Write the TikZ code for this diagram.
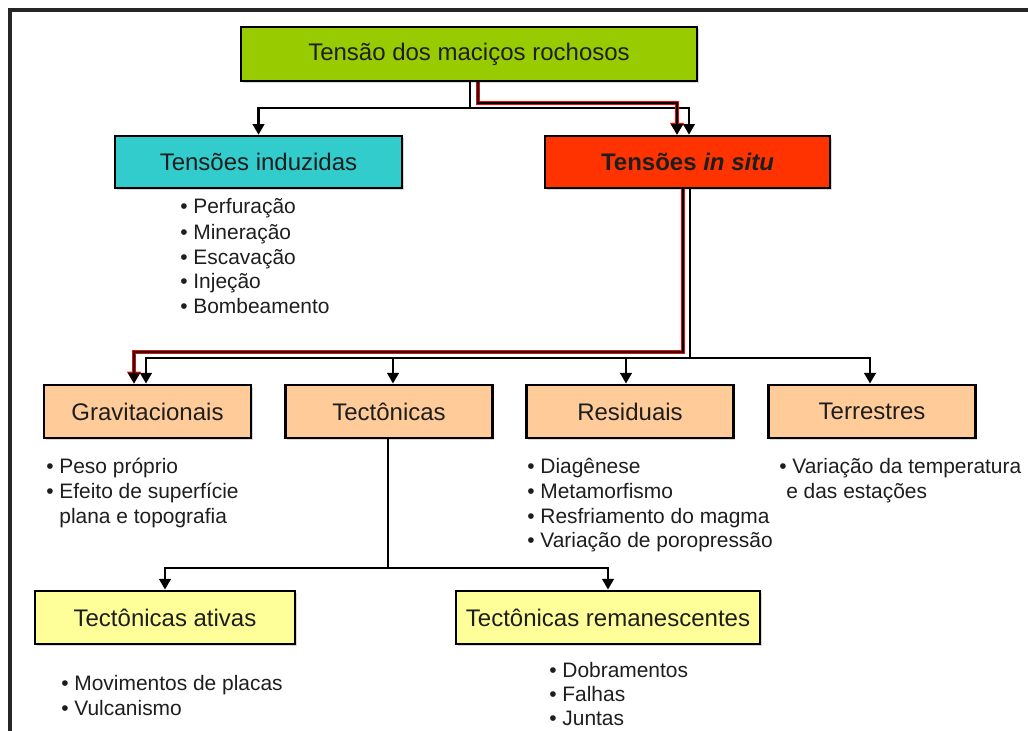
\documentclass[tikz,border=0pt]{standalone}
\usepackage{fontspec}
\setmainfont{Liberation Sans}
\usetikzlibrary{arrows.meta,calc,shadows}
\definecolor{cgreen}{HTML}{99CC00}
\definecolor{ccyan}{HTML}{33CCCC}
\definecolor{cred}{HTML}{FF3300}
\definecolor{cpeach}{HTML}{FFCC99}
\definecolor{cyellow}{HTML}{FFFF99}
\definecolor{ctext}{HTML}{1E1E1E}
\begin{document}
\begin{tikzpicture}[x=0.75pt,y=-0.75pt,
  box/.style={draw=black, line width=1.8pt, minimum height=40pt, inner sep=0pt,
    font=\fontsize{18}{20}\selectfont, text=ctext,
    drop shadow={shadow xshift=1.3pt, shadow yshift=-1.3pt, fill=black!30}},
  item/.style={anchor=base west, inner sep=0pt, font=\fontsize{15.7}{18}\selectfont, text=ctext},
  conn/.style={line width=2.1pt, black},
  arr/.style={conn, -{Triangle[width=8.5pt,length=8pt]}},
  rconn/.style={line width=3.6pt, red},
  rarr/.style={rconn, -{Triangle[width=10pt,length=9pt]}},
]
\useasboundingbox (0,0) rectangle (1028,731);
\fill[white] (0,0) rectangle (1028,731);
% frame
\draw[line width=2.4pt, black!85] (10,731) -- (10,10) -- (1028,10);

% boxes
\node[box, fill=cgreen, minimum width=342pt, minimum height=40.5pt] (top) at (469,54) {Tensão dos maciços rochosos};
\node[box, fill=ccyan, minimum width=215pt, minimum height=39pt] (ind) at (258.5,162) {Tensões induzidas};
\node[box, fill=cred, minimum width=214pt, minimum height=39pt] (insitu) at (687.5,162) {\bfseries Tensões \itshape in situ};
\node[box, fill=cpeach, minimum width=155pt] (grav) at (147.5,411.5) {Gravitacionais};
\node[box, fill=cpeach, minimum width=155pt] (tect) at (389,411.5) {Tectônicas};
\node[box, fill=cpeach, minimum width=155pt] (resid) at (630,411.5) {Residuais};
\node[box, fill=cpeach, minimum width=155pt] (terr) at (872,411.5) {Terrestres};
\node[box, fill=cyellow, minimum width=195pt] (ativ) at (165,617.5) {Tectônicas ativas};
\node[box, fill=cyellow, minimum width=228pt] (rem) at (608,617.5) {Tectônicas remanescentes};

% bullet lists
\node[item] (i1) at (180,214) {•~Perfuração};
\node[item] (i2) at (180,239) {•~Mineração};
\node[item] (i3) at (180,264) {•~Escavação};
\node[item] (i4) at (180,288) {•~Injeção};
\node[item] (i5) at (180,313) {•~Bombeamento};

\node[item] (g1) at (46,473) {•~Peso próprio};
\node[item] (g2) at (46,498) {•~Efeito de superfície};
\node[item] (g3) at (46,523) {\phantom{•~}plana e topografia};

\node[item] (r1) at (527,473) {•~Diagênese};
\node[item] (r2) at (527,498) {•~Metamorfismo};
\node[item] (r3) at (527,523) {•~Resfriamento do magma};
\node[item] (r4) at (527,547) {•~Variação de poropressão};

\node[item] (t1) at (779,473) {•~Variação da temperatura};
\node[item] (t2) at (786,498) {e das estações};

\node[item] (a1) at (61,690) {•~Movimentos de placas};
\node[item] (a2) at (61,715) {•~Vulcanismo};

\node[item] (m1) at (549,677) {•~Dobramentos};
\node[item] (m2) at (549,701) {•~Falhas};
\node[item] (m3) at (549,725) {•~Juntas};

% connectors: level 1
\coordinate (j1) at (470,108);
\coordinate (q1) at (478,103);
\draw[conn] (top.south -| j1) -- (j1);
\draw[arr] (j1) -| (ind.north);
\draw[arr] (j1) -| ($(insitu.north)+(1.5,0)$);
\draw[rarr] (top.south -| q1) -- (q1) -| ($(insitu.north)+(-10.5,0)$);
\draw[arr] (top.south -| q1) -- (q1) -| ($(insitu.north)+(-10.5,0)$);

% level 2
\coordinate (j2) at (690,358);
\coordinate (q2) at (683,352);
\draw[conn] (insitu.south -| j2) -- (j2);
\draw[arr] (j2) -| ($(grav.north)+(-1.5,0)$);
\draw[arr] (j2) -| ($(terr.north)+(-2,0)$);
\draw[arr] ($(tect.north |- j2)+(4,0)$) -- ($(tect.north)+(4,0)$);
\draw[arr] ($(resid.north |- j2)+(-4,0)$) -- ($(resid.north)+(-4,0)$);
\draw[rarr] (insitu.south -| q2) -- (q2) -| ($(grav.north)+(-13.5,0)$);
\draw[arr] (insitu.south -| q2) -- (q2) -| ($(grav.north)+(-13.5,0)$);

% level 3
\coordinate (j4) at (388,568);
\draw[conn] (tect.south -| j4) -- (j4);
\draw[arr] (j4) -| (ativ.north);
\draw[arr] (j4) -| (rem.north);
\end{tikzpicture}
\end{document}
